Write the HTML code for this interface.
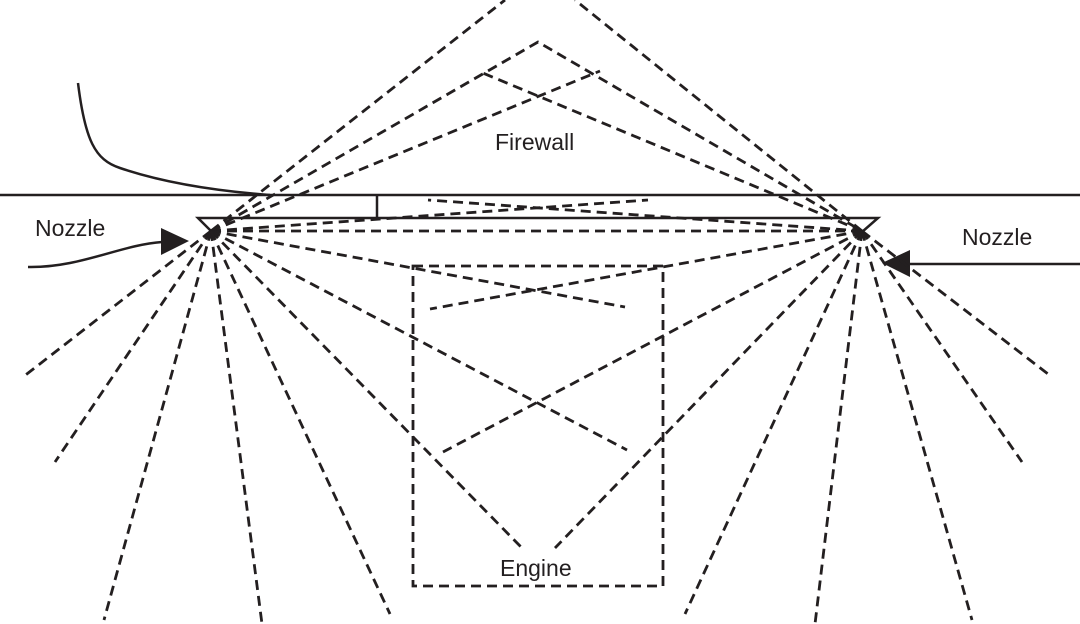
<!DOCTYPE html>
<html><head><meta charset="utf-8"><style>
html,body{margin:0;padding:0;background:#fff;}
svg{display:block;}
text{font-family:"Liberation Sans",sans-serif;font-size:23px;fill:#231f20;}
</style></head><body>
<svg width="1080" height="624" viewBox="0 0 1080 624" xmlns="http://www.w3.org/2000/svg">
<g stroke="#231f20" fill="none" stroke-width="2.5">
<line x1="0" y1="195" x2="1080" y2="195"/>
<line x1="377" y1="195" x2="377" y2="218"/>
<polyline points="212,232 198,218 878,218 862,232"/>
<path d="M78,83 C85,140 95,160 120,168 C170,185 230,192 270,195"/>
<path d="M28,267 C80,268 120,245 162,242"/>
<line x1="1080" y1="264" x2="905" y2="264"/>
</g>
<polygon points="161,228 161,255 189,241" fill="#231f20"/>
<polygon points="910,250 910,277 882,263" fill="#231f20"/>
<g stroke="#231f20" fill="none" stroke-width="2.8" stroke-dasharray="10,6">
<rect x="413" y="266" width="250" height="320"/>
<line x1="211" y1="231" x2="505" y2="0"/>
<line x1="862" y1="231" x2="575" y2="0"/>
<polyline points="211,231 538,42 862,231"/>
<line x1="862" y1="231" x2="478" y2="71"/>
<line x1="211" y1="231" x2="600" y2="71"/>
<line x1="862" y1="231" x2="428" y2="200"/>
<line x1="211" y1="231" x2="648" y2="200"/>
<line x1="211" y1="231" x2="862" y2="231"/>
<line x1="211" y1="231" x2="625" y2="307"/>
<line x1="862" y1="231" x2="430" y2="309"/>
<line x1="211" y1="231" x2="627" y2="450"/>
<line x1="862" y1="231" x2="443" y2="452"/>
<line x1="211" y1="231" x2="522" y2="548"/>
<line x1="862" y1="231" x2="555" y2="548"/>
<line x1="211" y1="231" x2="23" y2="377"/>
<line x1="211" y1="231" x2="55" y2="462"/>
<line x1="211" y1="231" x2="104" y2="620"/>
<line x1="211" y1="231" x2="262" y2="624"/>
<line x1="211" y1="231" x2="390" y2="614"/>
<line x1="862" y1="231" x2="1052" y2="377"/>
<line x1="862" y1="231" x2="1022" y2="462"/>
<line x1="862" y1="231" x2="972" y2="620"/>
<line x1="862" y1="231" x2="815" y2="624"/>
<line x1="862" y1="231" x2="685" y2="614"/>
</g>
<text x="35" y="236">Nozzle</text>
<text x="962" y="245">Nozzle</text>
<text x="495" y="150">Firewall</text>
<text x="500" y="576">Engine</text>
</svg>
</body></html>
